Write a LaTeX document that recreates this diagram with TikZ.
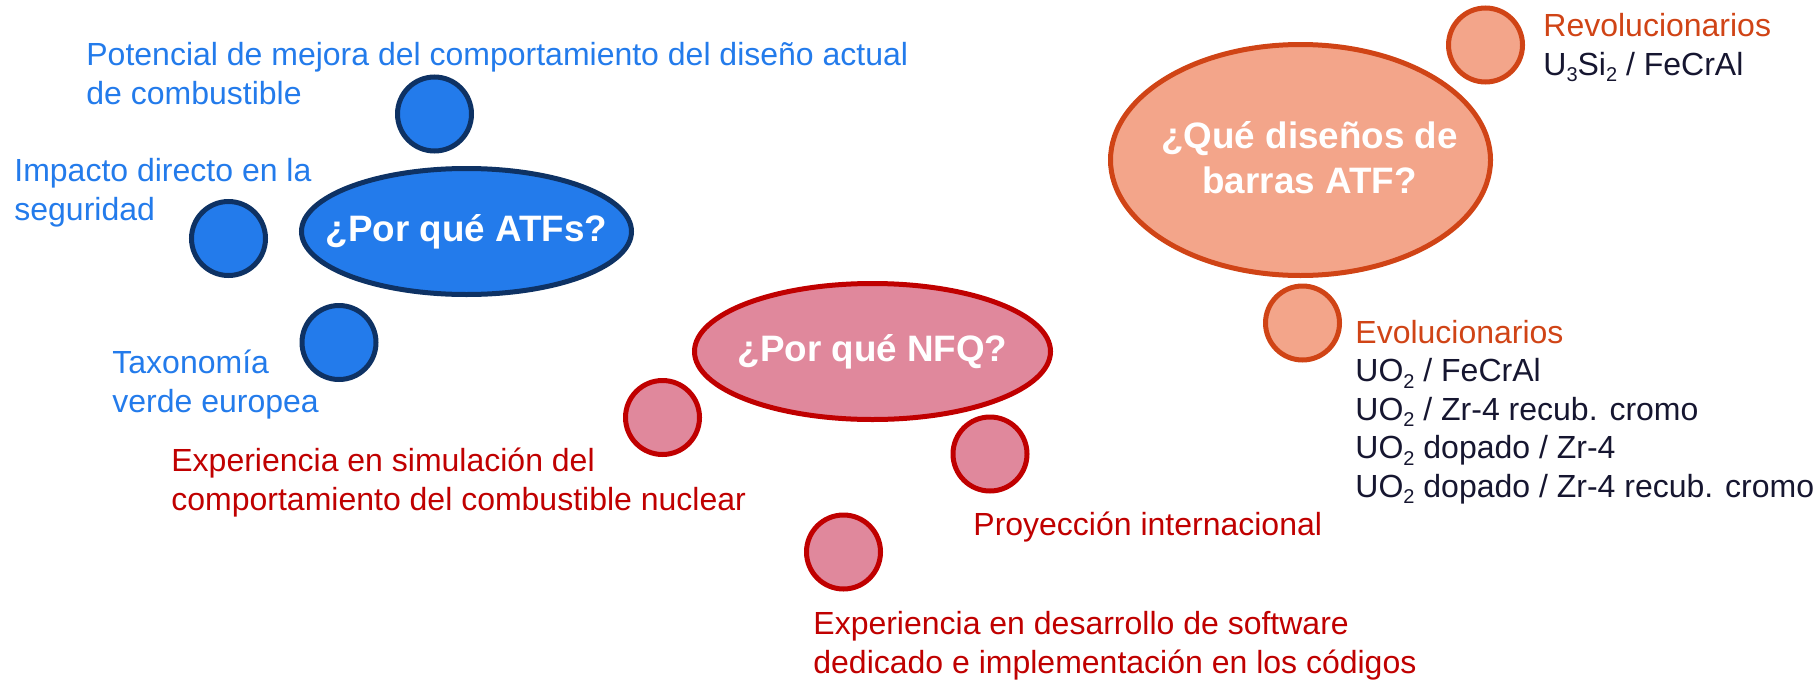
\documentclass[tikz,border=0pt]{standalone}
\usepackage{fontspec}
\setmainfont{Liberation Sans}
\usepackage{tikz}
\usetikzlibrary{shapes.geometric}
\definecolor{atfFill}{RGB}{35,123,235}
\definecolor{atfLine}{RGB}{14,50,100}
\definecolor{nfqFill}{RGB}{224,136,156}
\definecolor{nfqLine}{RGB}{192,0,0}
\definecolor{barFill}{RGB}{243,165,138}
\definecolor{barLine}{RGB}{208,68,22}
\definecolor{darkTxt}{RGB}{22,22,48}
\newcommand{\lbl}{\fontsize{16}{19.25}\selectfont}
\newcommand{\ttl}{\fontsize{18.4}{22.5}\selectfont\bfseries}
\newcommand{\sub}[1]{\raisebox{-3.4pt}{\fontsize{10}{10}\selectfont#1}}

\begin{document}
\begin{tikzpicture}[x=0.5pt,y=-0.5pt,
  bub/.style={circle,line width=2.5pt,minimum size=37pt,inner sep=0pt},
  big/.style={ellipse,line width=2.5pt,inner sep=0pt},
  head/.style={inner sep=0pt,text=white,font=\ttl,align=center},
  lab/.style={anchor=base west,inner sep=0pt,align=left,font=\lbl}]
\useasboundingbox (0,0) rectangle (1819,680);
\coordinate (a0) at (466.5,231.5);
\coordinate (a1) at (434.5,114);
\coordinate (a2) at (228.5,238.5);
\coordinate (a3) at (339,342.5);
\coordinate (n0) at (872.5,351.5);
\coordinate (n1) at (662.5,417.5);
\coordinate (n2) at (990,454);
\coordinate (n3) at (843.5,552);
\coordinate (b0) at (1300.5,160);
\coordinate (b1) at (1485.5,45);
\coordinate (b2) at (1302.5,323);
\node[big,draw=atfLine,fill=atfFill,minimum width=165pt,minimum height=63pt] (atf) at (a0) {};
\node[head] (atfh) at (a0) {¿Por qué ATFs?};
\node[bub,draw=atfLine,fill=atfFill] (atf1) at (a1) {};
\node[bub,draw=atfLine,fill=atfFill] (atf2) at (a2) {};
\node[bub,draw=atfLine,fill=atfFill] (atf3) at (a3) {};
\node[lab,text=atfFill] (atf1t) at (86,104) {Potencial de mejora del comportamiento del diseño actual\\de combustible};
\node[lab,text=atfFill] (atf2t) at (14,220) {Impacto directo en la\\seguridad};
\node[lab,text=atfFill] (atf3t) at (112,412) {Taxonomía\\verde europea};
\node[big,draw=nfqLine,fill=nfqFill,minimum width=178pt,minimum height=68pt] (nfq) at (n0) {};
\node[head] (nfqh) at (n0) {¿Por qué NFQ?};
\node[bub,draw=nfqLine,fill=nfqFill] (nfq1) at (n1) {};
\node[bub,draw=nfqLine,fill=nfqFill] (nfq2) at (n2) {};
\node[bub,draw=nfqLine,fill=nfqFill] (nfq3) at (n3) {};
\node[lab,text=nfqLine] (nfq1t) at (171,510) {Experiencia en simulación del\\comportamiento del combustible nuclear};
\node[lab,text=nfqLine] (nfq2t) at (973,535) {Proyección internacional};
\node[lab,text=nfqLine] (nfq3t) at (813,673) {Experiencia en desarrollo de software\\dedicado e implementación en los códigos};
\node[big,draw=barLine,fill=barFill,minimum width=190pt,minimum height=115.5pt] (bar) at (b0) {};
\node[head] (barh) at ([xshift=4.5pt,yshift=1pt]b0) {¿Qué diseños de\\barras ATF?};
\node[bub,draw=barLine,fill=barFill] (bar1) at (b1) {};
\node[bub,draw=barLine,fill=barFill] (bar2) at (b2) {};
\node[lab,text=darkTxt] (bar1t) at (1543,75) {{\color{barLine}Revolucionarios}\\U\sub{3}Si\sub{2} / FeCrAl};
\node[lab,text=darkTxt] (bar2t) at (1355,497) {{\color{barLine}Evolucionarios}\\UO\sub{2} / FeCrAl\\UO\sub{2} / Zr-4 recub. cromo\\UO\sub{2} dopado / Zr-4\\UO\sub{2} dopado / Zr-4 recub. cromo};
\end{tikzpicture}
\end{document}
